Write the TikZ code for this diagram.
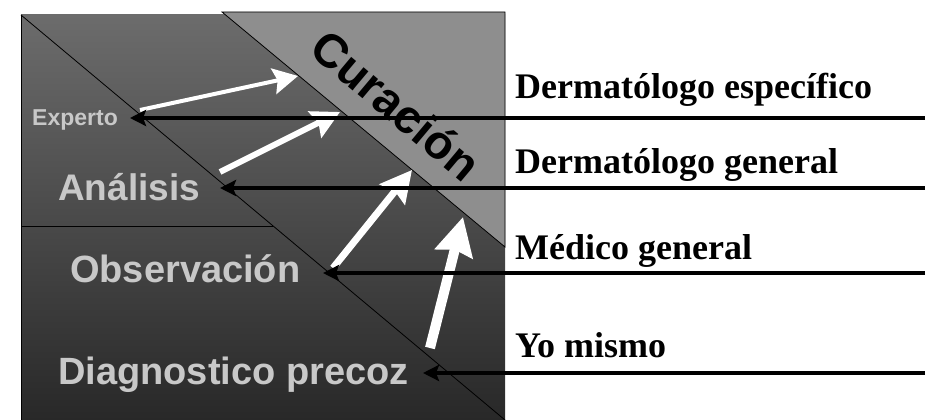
\documentclass[tikz,border=0pt]{standalone}
\usepackage{fontspec}
\setmainfont{Liberation Serif}
\newfontfamily\arial{Liberation Sans}
\usetikzlibrary{arrows.meta}
\definecolor{topgray}{RGB}{108,108,108}
\definecolor{botgray}{RGB}{40,40,40}
\definecolor{trigray}{RGB}{142,142,142}
\definecolor{labgray}{RGB}{200,200,200}
\begin{document}
\begin{tikzpicture}[x=1pt,y=-1pt,
  lefttext/.style={anchor=base west,inner sep=0pt,text=labgray,font=\arial\bfseries},
  righttext/.style={anchor=base west,inner sep=0pt,font=\fontsize{36}{38}\selectfont\bfseries},
  blackarrow/.style={line width=4pt,-{Stealth[length=16pt,width=16pt,inset=3pt]}},
  whitearrow/.style={draw=white,-{Stealth[length=#1*3.2pt+12pt,width=#1*3pt+14pt,inset=4pt,fill=white]}}]
\useasboundingbox (0,0) rectangle (930,420);
% dark panel
\shade[top color=topgray,bottom color=botgray] (21,15) rectangle (505,420);
\draw[line width=1pt] (21,15) -- (21,420);
\coordinate (dtl) at (21,15);
\coordinate (dbr) at (505,420);
\draw[line width=0.8pt] (dtl) -- (dbr);
\coordinate (hl) at (21,226);
\coordinate (hr) at (273,226);
\draw[line width=0.8pt] (hl) -- (hr);
% curacion triangle
\fill[trigray,draw=black,line width=0.8pt] (222,12) -- (505,12) -- (505,247) -- cycle;
\node[rotate=-40,inner sep=0pt,font=\arial\bfseries\fontsize{47}{49}\selectfont] (cur) at (396,105) {Curación};
% left labels
\node[lefttext,font=\arial\bfseries\fontsize{23}{25}\selectfont] (exp) at (32,125) {Experto};
\node[lefttext,font=\arial\bfseries\fontsize{37}{39}\selectfont] (ana) at (58,200) {Análisis};
\node[lefttext,font=\arial\bfseries\fontsize{38}{40}\selectfont] (obs) at (70,282) {Observación};
\node[lefttext,font=\arial\bfseries\fontsize{38}{40}\selectfont] (dia) at (58,384) {Diagnostico precoz};
% right labels
\node[righttext] (r1) at (515,99) {Dermatólogo específico};
\node[righttext] (r2) at (515,173) {Dermatólogo general};
\node[righttext] (r3) at (515,259) {Médico general};
\node[righttext] (r4) at (515,357) {Yo mismo};
% white arrows
\coordinate (w1s) at (140,110); \coordinate (w1e) at (298,76);
\coordinate (w2s) at (220,172); \coordinate (w2e) at (340,112);
\coordinate (w3s) at (333,268); \coordinate (w3e) at (412,170);
\coordinate (w4s) at (430,348); \coordinate (w4e) at (463,217);
\draw[whitearrow=4,line width=4pt] (w1s) -- (w1e);
\draw[whitearrow=5,line width=6pt] (w2s) -- (w2e);
\draw[whitearrow=6,line width=7pt] (w3s) -- (w3e);
\draw[whitearrow=8,line width=10pt] (w4s) -- (w4e);
% black arrows
\coordinate (b1s) at (925,118); \coordinate (b1e) at (130,118);
\coordinate (b2s) at (925,188); \coordinate (b2e) at (220,188);
\coordinate (b3s) at (925,273); \coordinate (b3e) at (323,273);
\coordinate (b4s) at (925,373); \coordinate (b4e) at (423,373);
\draw[blackarrow] (b1s) -- (b1e);
\draw[blackarrow] (b2s) -- (b2e);
\draw[blackarrow] (b3s) -- (b3e);
\draw[blackarrow] (b4s) -- (b4e);
\end{tikzpicture}
\end{document}
